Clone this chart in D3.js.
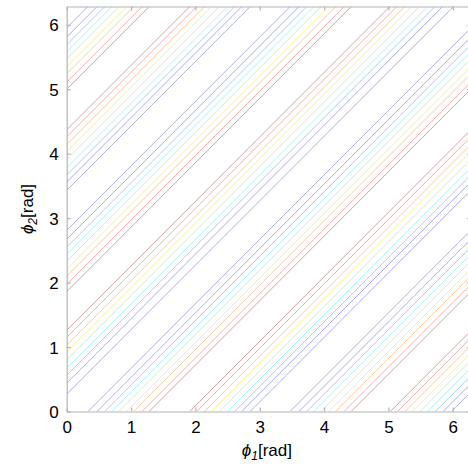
<!DOCTYPE html>
<html>
<head>
<meta charset="utf-8">
<script src="https://cdn.jsdelivr.net/npm/d3@7"></script>
<style>
  html, body { margin: 0; padding: 0; background: #fff; }
  svg { display: block; font-family: "Liberation Sans", Arial, sans-serif; }
</style>
</head>
<body>
<svg id="chart" width="468" height="465"></svg>
<script>
// ---- data ----
const TWO_PI = 2 * Math.PI;
const xTicks = [0, 1, 2, 3, 4, 5, 6];
const yTicks = [0, 1, 2, 3, 4, 5, 6];
// contour level index 0 (lowest, dark blue) .. 8 (highest, dark red)
const levelColors = ["#aeaee8", "#a8a8ff", "#a8ccff", "#aaf0f6", "#c8f0c4",
                     "#f6ee9e", "#fccc9e", "#f6acac", "#d0a2a2"];
// lines crossing the bottom edge (phi2 = 0): phi1 position and level
const bottomPos = [0.33, 0.47, 0.59, 0.70, 0.81, 0.93, 1.04, 1.17, 1.28,
                   1.91, 2.02, 2.14, 2.25, 2.37, 2.50, 2.61, 2.72, 2.85,
                   3.47, 3.61, 3.73, 3.84, 3.95, 4.07, 4.18, 4.31, 4.42,
                   5.03, 5.14, 5.26, 5.37, 5.49, 5.61, 5.73, 5.85, 5.98];
const bottomLevel = [0, 1, 2, 3, 4, 5, 6, 7, 8,
                     8, 7, 6, 5, 4, 3, 2, 1, 0,
                     0, 1, 2, 3, 4, 5, 6, 7, 8,
                     8, 7, 6, 5, 4, 3, 2, 1, 0];
// lines crossing the left edge (phi1 = 0): phi2 position and level
const leftPos = [5.95, 5.81, 5.69, 5.58, 5.47, 5.35, 5.24, 5.11, 5.00,
                 4.37, 4.26, 4.14, 4.03, 3.91, 3.78, 3.67, 3.56, 3.43,
                 2.81, 2.67, 2.55, 2.44, 2.33, 2.21, 2.10, 1.97, 1.86,
                 1.26, 1.15, 1.03, 0.92, 0.80, 0.67, 0.56, 0.44, 0.27];
const leftLevel = [0, 1, 2, 3, 4, 5, 6, 7, 8,
                   8, 7, 6, 5, 4, 3, 2, 1, 0,
                   0, 1, 2, 3, 4, 5, 6, 7, 8,
                   8, 7, 6, 5, 4, 3, 2, 1, 0];

// ---- layout ----
const pLeft = 66.7, pRight = 471, pTop = 6.5, pBottom = 411.5;
const svg = d3.select("#chart");
const x = d3.scaleLinear().domain([0, TWO_PI]).range([pLeft, pRight]);
const y = d3.scaleLinear().domain([0, TWO_PI]).range([pBottom, pTop]);

svg.append("defs").append("clipPath").attr("id", "plotclip")
  .append("rect").attr("x", pLeft).attr("y", pTop)
  .attr("width", pRight - pLeft).attr("height", pBottom - pTop);

// lines phi2 = phi1 + c
const lines = [];
bottomPos.forEach((p, i) => lines.push({ c: -p, level: bottomLevel[i] }));
leftPos.forEach((p, i) => lines.push({ c: p, level: leftLevel[i] }));

const g = svg.append("g").attr("clip-path", "url(#plotclip)");
g.selectAll("line.contour").data(lines).enter().append("line")
  .attr("class", "contour")
  .attr("x1", d => x(Math.max(0, -d.c)))
  .attr("y1", d => y(Math.max(0, -d.c) + d.c))
  .attr("x2", d => x(Math.min(TWO_PI, TWO_PI - d.c)))
  .attr("y2", d => y(Math.min(TWO_PI, TWO_PI - d.c) + d.c))
  .attr("stroke", d => levelColors[d.level])
  .attr("stroke-width", 1)
  .attr("fill", "none");

// ---- axes ----
const axisColor = "#b4b4b4";
const tickLen = 4;
const axB = svg.append("g").attr("transform", `translate(0,${pBottom})`)
  .call(d3.axisBottom(x).tickValues(xTicks).tickFormat(d3.format("d"))
        .tickSizeInner(-tickLen).tickSizeOuter(0).tickPadding(9));
const axT = svg.append("g").attr("transform", `translate(0,${pTop})`)
  .call(d3.axisTop(x).tickValues(xTicks).tickFormat("")
        .tickSizeInner(-tickLen).tickSizeOuter(0));
const axL = svg.append("g").attr("transform", `translate(${pLeft},0)`)
  .call(d3.axisLeft(y).tickValues(yTicks).tickFormat(d3.format("d"))
        .tickSizeInner(-tickLen).tickSizeOuter(0).tickPadding(8));
const axR = svg.append("g").attr("transform", `translate(${pRight},0)`)
  .call(d3.axisRight(y).tickValues(yTicks).tickFormat("")
        .tickSizeInner(-tickLen).tickSizeOuter(0));

[axB, axT, axL, axR].forEach(a => {
  a.select(".domain").attr("stroke", axisColor).attr("stroke-width", 1.2);
  a.selectAll(".tick line").attr("stroke", axisColor).attr("stroke-width", 1.2);
  a.selectAll(".tick text").attr("fill", "#000")
    .attr("font-family", "'Liberation Sans', Arial, sans-serif");
});
axB.selectAll(".tick text").attr("font-size", 17);
axL.selectAll(".tick text").attr("font-size", 17).attr("dy", "0.36em");

// ---- axis titles ----
const xt = svg.append("text")
  .attr("x", (pLeft + pRight) / 2 - 2).attr("y", 456)
  .attr("text-anchor", "middle").attr("font-size", 17).attr("fill", "#000");
xt.append("tspan").attr("font-style", "italic").text("\u03D5");
xt.append("tspan").attr("font-style", "italic").attr("font-size", 12)
  .attr("dy", 4).text("1");
xt.append("tspan").attr("dy", -4).text("[rad]");

const yt = svg.append("text")
  .attr("transform", `translate(33,${(pTop + pBottom) / 2}) rotate(-90)`)
  .attr("text-anchor", "middle").attr("font-size", 17).attr("fill", "#000");
yt.append("tspan").attr("font-style", "italic").text("\u03D5");
yt.append("tspan").attr("font-style", "italic").attr("font-size", 12)
  .attr("dy", 4).text("2");
yt.append("tspan").attr("dy", -4).text("[rad]");
</script>
</body>
</html>
